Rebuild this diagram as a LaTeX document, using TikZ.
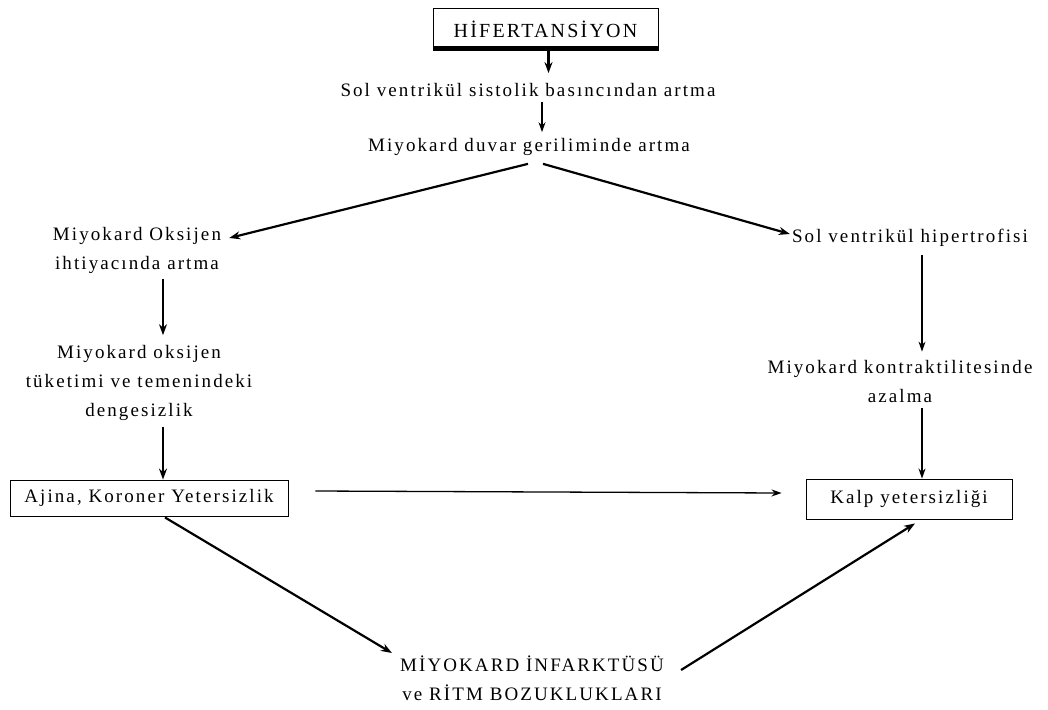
\documentclass[tikz,border=0pt]{standalone}
\usepackage{fontspec}
\setmainfont{Liberation Serif}[LetterSpace=11]
\usetikzlibrary{arrows.meta}
\tikzset{
  txt/.style={inner sep=0pt, align=center, font=\fontsize{19}{29}\selectfont},
  boxed/.style={draw, line width=0.9pt, inner sep=0pt, font=\fontsize{19}{29}\selectfont},
  thickarr/.style={line width=2.2pt, -{Stealth[length=11pt,width=8pt]}},
  thinarr/.style={line width=1.3pt, -{Stealth[length=10pt,width=7pt]}},
}
\begin{document}
\begin{tikzpicture}[x=1pt,y=-1pt]
\useasboundingbox[fill=white] (0,0) rectangle (1048,709);
% nodes
\node[boxed, minimum width=225pt, minimum height=42pt, font=\fontsize{20}{24}\selectfont] (hyp) at (545.5,29) {HİFERTANSİYON};
\node[txt] (n1) at (528,90) {Sol ventrikül sistolik basıncından artma};
\node[txt] (n2) at (529,147) {Miyokard duvar geriliminde artma};
\node[txt] (L1) at (137,250) {Miyokard Oksijen\\ihtiyacında artma};
\node[txt] (L2) at (139,383) {Miyokard oksijen\\tüketimi ve temenindeki\\dengesizlik};
\node[boxed, minimum width=278pt, minimum height=36pt] (ajina) at (149,498) {Ajina, Koroner Yetersizlik};
\node[txt] (R1) at (910,238) {Sol ventrikül hipertrofisi};
\node[txt] (R2) at (900,381) {Miyokard kontraktilitesinde\\azalma};
\node[boxed, minimum width=206pt, minimum height=40pt] (kalp) at (909,499) {Kalp yetersizliği};
\node[txt] (mi) at (532,678) {MİYOKARD İNFARKTÜSÜ\\ve RİTM BOZUKLUKLARI};
% thick bottom of the top box
\draw[line width=4pt] ([yshift=2pt]hyp.south west) -- ([yshift=2pt]hyp.south east);
% connectors
\draw[thickarr] ([xshift=3pt]hyp.south) -- ([xshift=3pt,yshift=10pt]hyp.south |- n1.north);
\draw[thinarr] ([xshift=14pt,yshift=-5pt]n1.south) -- ([xshift=13pt,yshift=6pt]n2.north);
\draw[thickarr] ([xshift=-1pt,yshift=-8pt]n2.south) -- ([xshift=8pt,yshift=12pt]L1.east);
\draw[thickarr] ([xshift=14pt,yshift=-8pt]n2.south) -- ([xshift=-2pt,yshift=4pt]R1.west);
\draw[thickarr] ([xshift=26pt,yshift=-6pt]L1.south) -- ([xshift=24pt,yshift=10pt]L2.north);
\draw[thickarr] ([xshift=24pt,yshift=-6pt]L2.south) -- ([xshift=14pt]ajina.north);
\draw[thinarr] ([xshift=27pt,yshift=7pt]ajina.east) -- ([xshift=-24pt,yshift=6pt]kalp.west);
\draw[thickarr] ([xshift=16pt,yshift=-1pt]ajina.south) -- ([xshift=-8pt,yshift=25pt]mi.west);
\draw[thickarr] ([xshift=17pt,yshift=8pt]mi.east) -- ([xshift=6pt,yshift=-4pt]kalp.south);
\draw[thinarr] ([xshift=12pt,yshift=-8pt]R1.south) -- ([xshift=22pt,yshift=8pt]R2.north);
\draw[thinarr] ([xshift=22pt,yshift=-6pt]R2.south) -- ([xshift=13pt]kalp.north);
\end{tikzpicture}
\end{document}
